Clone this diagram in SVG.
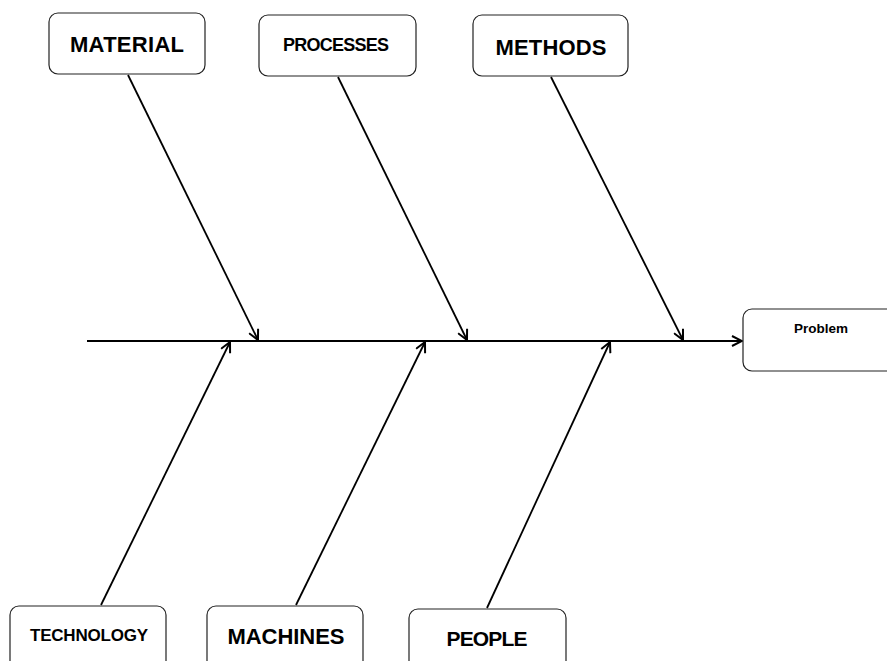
<svg xmlns="http://www.w3.org/2000/svg" width="887" height="661" viewBox="0 0 887 661">
  <defs>
    <marker id="arrow" viewBox="0 0 12 12" refX="11" refY="6" markerWidth="12" markerHeight="12" markerUnits="userSpaceOnUse" orient="auto">
      <path d="M1,1 L11,6 L1,11" fill="none" stroke="#000" stroke-width="2"/>
    </marker>
  </defs>
  <style>
    .box { fill: #fff; stroke: #222; stroke-width: 1.2; }
    .lbl { font-family: "Liberation Sans", Arial, sans-serif; font-weight: bold; fill: #000; text-anchor: middle; }
    .bone { stroke: #000; stroke-width: 1.8; fill: none; marker-end: url(#arrow); }
    .spine { stroke: #000; stroke-width: 2.2; fill: none; marker-end: url(#arrow); }
  </style>
  <rect width="887" height="661" fill="#fff"/>

  <!-- connectors -->
  <g id="connectors">
    <line class="spine" x1="87" y1="341" x2="742" y2="341"/>
    <line class="bone" x1="128" y1="75" x2="258" y2="340"/>
    <line class="bone" x1="338" y1="77" x2="467" y2="340"/>
    <line class="bone" x1="551" y1="77" x2="683" y2="340"/>
    <line class="bone" x1="101" y1="605" x2="230" y2="342"/>
    <line class="bone" x1="296" y1="605" x2="425" y2="342"/>
    <line class="bone" x1="487" y1="608" x2="610" y2="342"/>
  </g>

  <!-- causes, top row -->
  <g id="material">
    <rect class="box" x="49" y="13" width="156" height="61" rx="9"/>
    <text class="lbl" x="127" y="52" font-size="22" textLength="114">MATERIAL</text>
  </g>
  <g id="processes">
    <rect class="box" x="259" y="15" width="157" height="61" rx="9"/>
    <text class="lbl" x="336" y="51" font-size="18" textLength="106">PROCESSES</text>
  </g>
  <g id="methods">
    <rect class="box" x="473" y="15" width="155" height="61" rx="9"/>
    <text class="lbl" x="551" y="55" font-size="22" textLength="111">METHODS</text>
  </g>

  <!-- effect -->
  <g id="problem">
    <rect class="box" x="743" y="309" width="160" height="62" rx="9"/>
    <text class="lbl" x="821" y="333" font-size="13.5">Problem</text>
  </g>

  <!-- causes, bottom row -->
  <g id="technology">
    <rect class="box" x="10" y="606" width="156" height="70" rx="9"/>
    <text class="lbl" x="89" y="641" font-size="17" textLength="118">TECHNOLOGY</text>
  </g>
  <g id="machines">
    <rect class="box" x="207" y="606" width="156" height="70" rx="9"/>
    <text class="lbl" x="286" y="644" font-size="22" textLength="117">MACHINES</text>
  </g>
  <g id="people">
    <rect class="box" x="409" y="609" width="157" height="70" rx="9"/>
    <text class="lbl" x="487" y="646" font-size="21" textLength="81">PEOPLE</text>
  </g>
</svg>
